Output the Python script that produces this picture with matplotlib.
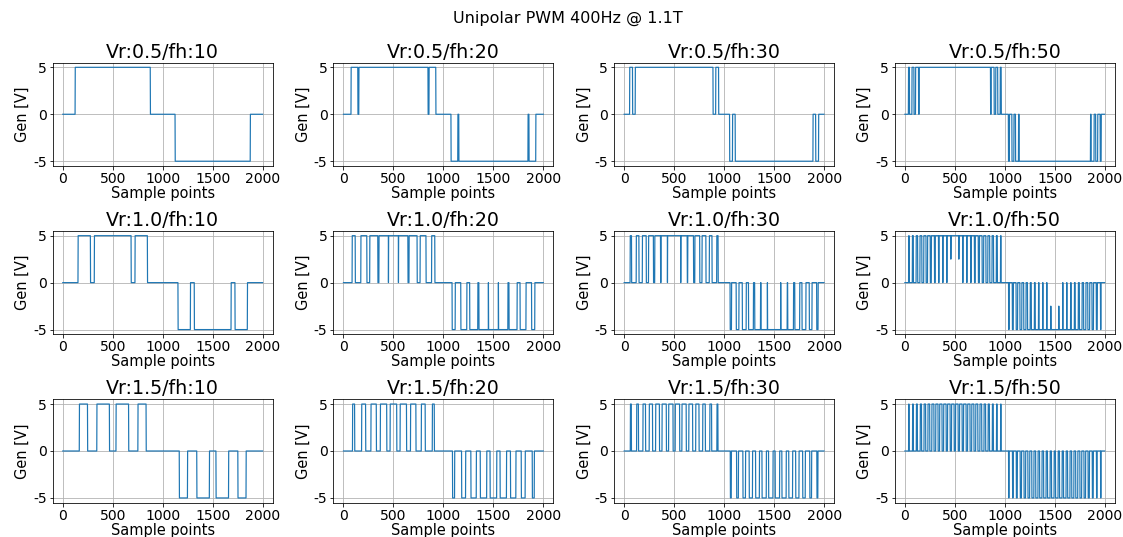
import numpy as np
import matplotlib.pyplot as plt

n_samples = 2000
half_cycle = 1000
vr_values = [0.5, 1.0, 1.5]
fh_values = [10, 20, 30, 50]

# rise/fall sample indices of the +5 V pulses in the first half cycle,
# read off the traces; the second half repeats them at -5 V
edges_vr05_fh10 = [124, 876]
edges_vr05_fh20 = [76, 144, 154, 846, 856, 924]
edges_vr05_fh30 = [55, 84, 111, 889, 916, 945]
edges_vr05_fh50 = [36, 46, 71, 91, 107, 137, 143, 857, 863, 893, 909, 929, 954, 964]

edges_vr10_fh10 = [153, 277, 316, 684, 723, 847]
edges_vr10_fh20 = [87, 118, 174, 234, 263, 344, 355, 450, 451, 550, 551, 645,
                   656, 737, 767, 826, 882, 914]
edges_vr10_fh30 = [60, 74, 121, 148, 182, 221, 244, 293, 306, 364, 369, 433,
                   434, 566, 567, 631, 636, 694, 707, 756, 779, 818, 852, 879, 926, 940]
edges_vr10_fh50 = [38, 43, 75, 85, 113, 128, 151, 170, 189, 212, 227, 254,
                   265, 296, 304, 337, 342, 379, 381, 419, 421, 579, 581, 619,
                   621, 658, 663, 696, 704, 735, 746, 773, 788, 811, 830, 849,
                   872, 887, 915, 925, 957, 962]

edges_vr15_fh10 = [166, 248, 341, 467, 533, 659, 752, 834]
edges_vr15_fh20 = [91, 112, 182, 222, 275, 329, 369, 433, 467, 533, 567, 631,
                   671, 725, 779, 818, 889, 909]
edges_vr15_fh30 = [62, 72, 125, 143, 188, 214, 251, 284, 315, 353, 379, 422,
                   445, 489, 511, 555, 578, 621, 647, 685, 716, 749, 786, 812,
                   857, 875, 928, 938]
edges_vr15_fh50 = [38, 42, 77, 84, 115, 125, 154, 167, 192, 208, 231, 249,
                   270, 291, 309, 332, 348, 372, 388, 413, 427, 453, 467, 493,
                   507, 533, 547, 573, 587, 613, 628, 652, 669, 691, 709, 730,
                   751, 769, 792, 808, 833, 846, 875, 885, 917, 923, 958, 962]

# samples that sit half way (2.5 V) in the Vr 1.0 / fh 50 trace
half_level_vr10_fh50 = [460, 540]

edges_grid = [
    [edges_vr05_fh10, edges_vr05_fh20, edges_vr05_fh30, edges_vr05_fh50],
    [edges_vr10_fh10, edges_vr10_fh20, edges_vr10_fh30, edges_vr10_fh50],
    [edges_vr15_fh10, edges_vr15_fh20, edges_vr15_fh30, edges_vr15_fh50],
]


def build_trace(edges, half_points=()):
    sig = np.zeros(n_samples)
    for a, b in zip(edges[0::2], edges[1::2]):
        sig[a:b] = 5.0
        sig[half_cycle + a:half_cycle + b] = -5.0
    for p in half_points:
        sig[p] = 2.5
        sig[half_cycle + p] = -2.5
    return sig


# 72 dpi so that 1 pt = 1 px
plt.rcParams['font.size'] = 14.5
plt.rcParams['axes.unicode_minus'] = False
fig, axes = plt.subplots(3, 4, figsize=(1123 / 72, 537 / 72), dpi=72)
fig.subplots_adjust(left=0.047, right=0.9926, top=0.8834, bottom=0.064,
                    wspace=0.277, hspace=0.63)
fig.suptitle('Unipolar PWM 400Hz @ 1.1T', fontsize=16, x=0.506)

x = np.arange(n_samples)
for i, vr in enumerate(vr_values):
    for j, fh in enumerate(fh_values):
        ax = axes[i, j]
        extra = half_level_vr10_fh50 if (vr == 1.0 and fh == 50) else ()
        sig = build_trace(edges_grid[i][j], extra)
        ax.plot(x, sig, color='#1f77b4', lw=1.2)
        ax.set_title(f'Vr:{vr}/fh:{fh}', fontsize=19, pad=5)
        ax.set_xlabel('Sample points', labelpad=0)
        ax.set_ylabel('Gen [V]', labelpad=3)
        ax.set_xticks([0, 500, 1000, 1500, 2000])
        ax.set_yticks([-5, 0, 5])
        ax.tick_params(labelsize=14, pad=2.5)
        ax.grid(True)

fig.savefig('out.png', dpi=72)
